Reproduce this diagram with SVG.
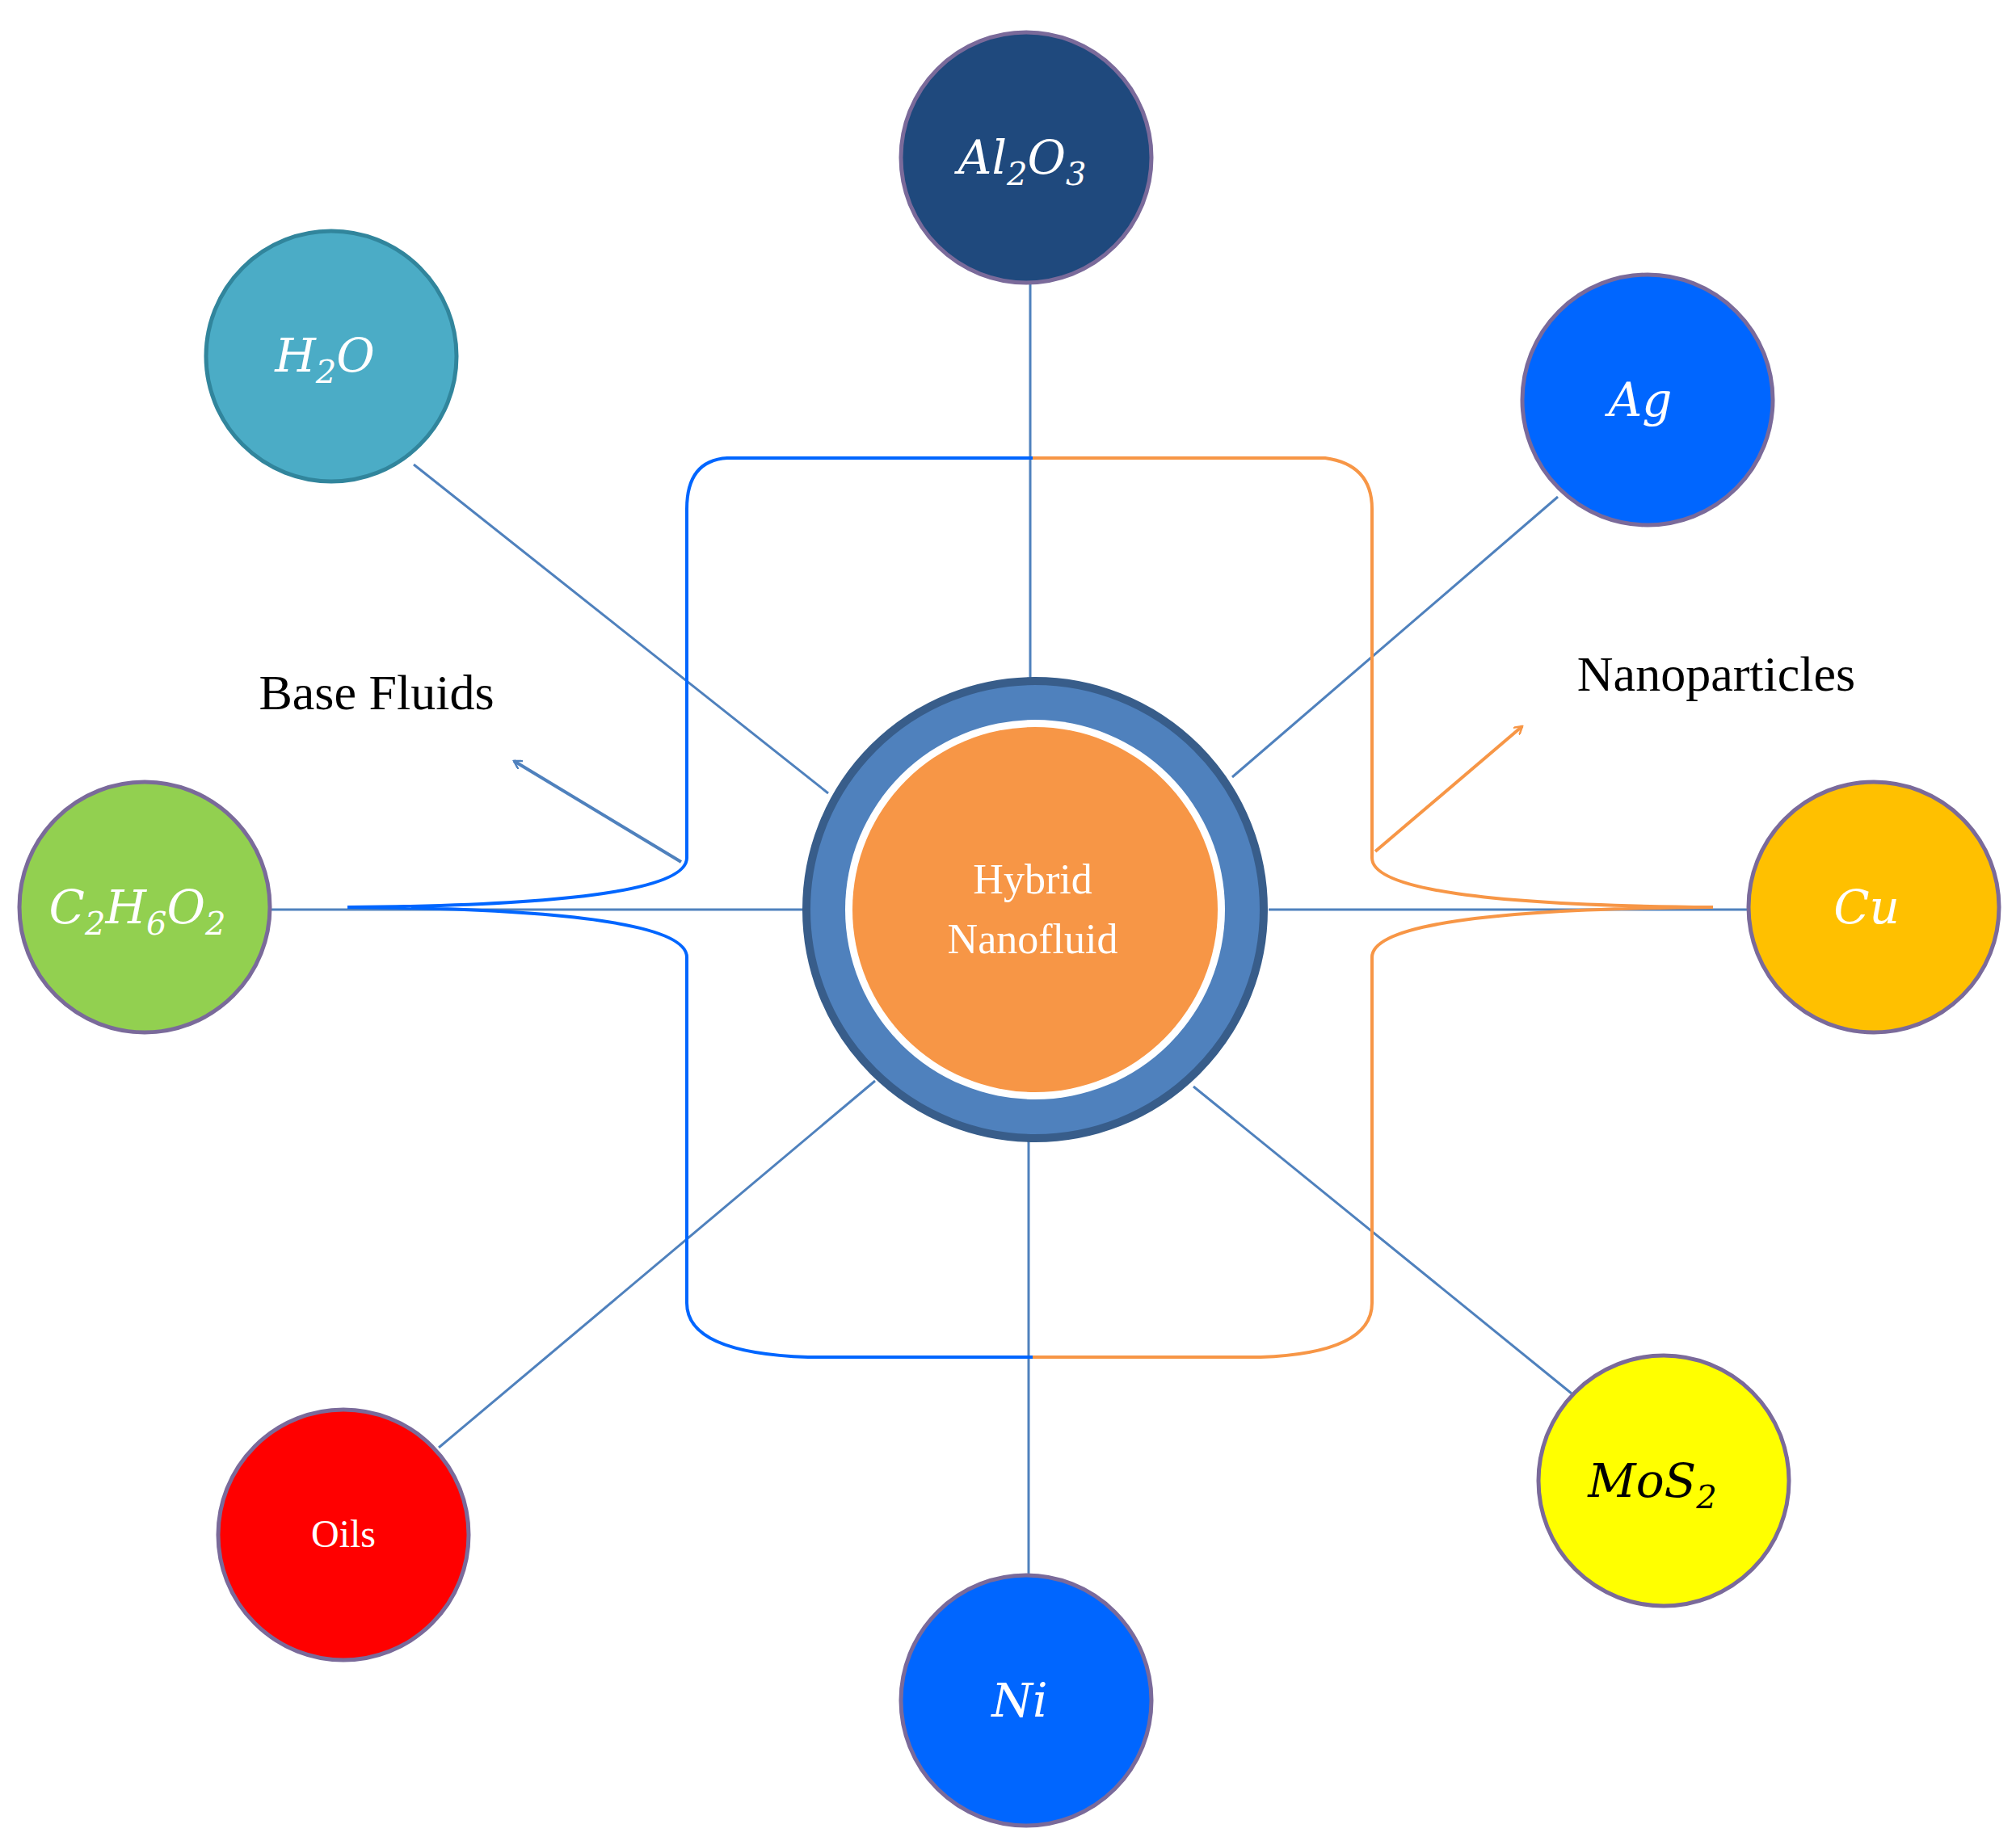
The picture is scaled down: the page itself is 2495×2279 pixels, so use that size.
<svg xmlns="http://www.w3.org/2000/svg" width="2495" height="2279" viewBox="0 0 2495 2279">
<style>
.n{stroke:#7a6a9a;stroke-width:5}
.m{font-family:"DejaVu Serif","Liberation Serif",serif;font-style:italic;font-size:58px;fill:#fff;text-anchor:middle}
.s{font-size:40px}
.c{stroke:#4f81bd;stroke-width:3;fill:none}
.lb{font-family:"Liberation Serif",serif;font-size:62px;fill:#000;text-anchor:middle}
</style>
<defs>
<marker id="ab" markerWidth="12" markerHeight="12" refX="10" refY="6" orient="auto" markerUnits="userSpaceOnUse" viewBox="0 0 12 12"><path d="M0,0 L10,6 L0,12" fill="none" stroke="#4f81bd" stroke-width="2.5"/></marker>
<marker id="ao" markerWidth="12" markerHeight="12" refX="10" refY="6" orient="auto" markerUnits="userSpaceOnUse" viewBox="0 0 12 12"><path d="M0,0 L10,6 L0,12" fill="none" stroke="#f79646" stroke-width="2.5"/></marker>
</defs>
<rect width="2495" height="2279" fill="#fff"/>
<g id="connectors">
<line class="c" x1="1275" y1="350" x2="1275" y2="840"/>
<line class="c" x1="512" y1="575" x2="1025" y2="982"/>
<line class="c" x1="1928" y1="615" x2="1525" y2="962"/>
<line class="c" x1="335" y1="1126" x2="995" y2="1126"/>
<line class="c" x1="1570" y1="1126" x2="2165" y2="1126"/>
<line class="c" x1="543" y1="1792" x2="1083" y2="1338"/>
<line class="c" x1="1273" y1="1412" x2="1273" y2="1952"/>
<line class="c" x1="1477" y1="1345" x2="1945" y2="1725"/>
<path d="M1278,567 L900,567 Q850,570 850,630 L850,1062 Q850,1120 430,1123 Q850,1126 850,1185 L850,1613 Q850,1675 1000,1680 L1278,1680" fill="none" stroke="#0066ff" stroke-width="4"/>
<path d="M1278,567 L1640,567 Q1698,575 1698,630 L1698,1062 Q1698,1120 2120,1123 Q1698,1126 1698,1185 L1698,1613 Q1698,1675 1560,1680 L1278,1680" fill="none" stroke="#f79646" stroke-width="4"/>
<line x1="843" y1="1067" x2="636" y2="942" stroke="#4f81bd" stroke-width="4" marker-end="url(#ab)"/>
<line x1="1702" y1="1054" x2="1884" y2="899" stroke="#f79646" stroke-width="4" marker-end="url(#ao)"/>
</g>
<g id="center">
<circle cx="1281" cy="1126" r="283" fill="#4f81bd" stroke="#385d8a" stroke-width="10"/>
<circle cx="1281" cy="1126" r="235" fill="#fff"/>
<circle cx="1281" cy="1126" r="226" fill="#f79646"/>
<text x="1278" y="1106" font-family="Liberation Serif,serif" font-size="52" fill="#fff" text-anchor="middle">Hybrid</text>
<text x="1278" y="1180" font-family="Liberation Serif,serif" font-size="52" fill="#fff" text-anchor="middle">Nanofluid</text>
</g>
<g id="al2o3"><circle class="n" cx="1270" cy="195" r="155" fill="#1f497d"/><text class="m" x="1265" y="215">Al<tspan class="s" dy="14">2</tspan><tspan dy="-14">O</tspan><tspan class="s" dy="14">3</tspan></text></g>
<g id="h2o"><circle cx="410" cy="441" r="155" fill="#4bacc6" stroke="#31859c" stroke-width="5"/><text class="m" x="402" y="460">H<tspan class="s" dy="14">2</tspan><tspan dy="-14">O</tspan></text></g>
<g id="ag"><circle class="n" cx="2039" cy="495" r="155" fill="#0066ff"/><text class="m" x="2030" y="515">Ag</text></g>
<g id="c2h6o2"><circle class="n" cx="179" cy="1123" r="155" fill="#92d050"/><text class="m" x="170" y="1143">C<tspan class="s" dy="14">2</tspan><tspan dy="-14">H</tspan><tspan class="s" dy="14">6</tspan><tspan dy="-14">O</tspan><tspan class="s" dy="14">2</tspan></text></g>
<g id="cu"><circle class="n" cx="2319" cy="1123" r="155" fill="#ffc000"/><text class="m" x="2310" y="1143">Cu</text></g>
<g id="oils"><circle class="n" cx="425" cy="1900" r="155" fill="#ff0000"/><text x="425" y="1915" font-family="Liberation Serif,serif" font-size="48" fill="#fff" text-anchor="middle">Oils</text></g>
<g id="ni"><circle class="n" cx="1270" cy="2105" r="155" fill="#0066ff"/><text class="m" x="1262" y="2125">Ni</text></g>
<g id="mos2"><circle class="n" cx="2059" cy="1833" r="155" fill="#ffff00"/><text class="m" x="2045" y="1853" fill="#000" style="fill:#000">MoS<tspan class="s" dy="14">2</tspan></text></g>
<text class="lb" x="466" y="878">Base Fluids</text>
<text class="lb" x="2124" y="855">Nanoparticles</text>
</svg>
